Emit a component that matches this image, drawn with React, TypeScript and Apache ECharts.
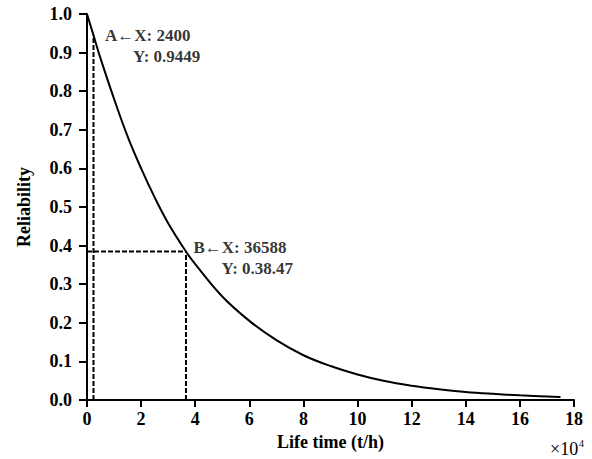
import React, { useEffect, useRef } from "react";
import * as echarts from "echarts";

// Life time in hours and read-off reliability values
const lifeHours = [0, 2400, 5000, 10000, 15000, 20000, 25000, 30000, 36588, 40000, 50000, 60000, 70000, 80000, 90000, 100000, 110000, 120000, 130000, 140000, 150000, 160000, 170000, 175000];
const reliability = [1.0, 0.9449, 0.885, 0.78, 0.683, 0.6, 0.525, 0.458, 0.3847, 0.352, 0.268, 0.205, 0.155, 0.116, 0.088, 0.066, 0.049, 0.037, 0.028, 0.021, 0.016, 0.012, 0.009, 0.008];

const pointA = { name: "A", x: 2400, y: 0.9449, yText: "0.9449" };
const pointB = { name: "B", x: 36588, y: 0.3847, yText: "0.38.47" };

const xTickValues = [0, 2, 4, 6, 8, 10, 12, 14, 16, 18];
const xScale = 10000;

const FONT = "'Liberation Serif', 'Times New Roman', serif";

export default function App() {
  const ref = useRef<HTMLDivElement>(null);
  useEffect(() => {
    if (!ref.current) return;
    const chart = echarts.init(ref.current, null, { renderer: "svg" });
    const curve = lifeHours.map((t, i) => [t, reliability[i]]);
    const dashStyle = { color: "#000", width: 2, type: [5, 2] as number[] };
    const labelRich = (p: typeof pointA) =>
      `{a|${p.name}\u2190X: ${p.x}}\n{b|Y: ${p.yText}}`;
    const richStyles = {
      a: { fontFamily: FONT, fontWeight: "bold", fontSize: 17, color: "#000", lineHeight: 21 },
      b: { fontFamily: FONT, fontWeight: "bold", fontSize: 17, color: "#000", lineHeight: 21, padding: [0, 0, 0, 28] },
    };
    chart.setOption({
      animation: false,
      backgroundColor: "#fff",
      grid: { left: 87, right: 18, top: 14, bottom: 59 },
      xAxis: {
        type: "value",
        min: 0,
        max: xTickValues[xTickValues.length - 1] * xScale,
        interval: 2 * xScale,
        name: "Life time (t/h)",
        nameLocation: "middle",
        nameGap: 31,
        nameTextStyle: { fontFamily: FONT, fontWeight: "bold", fontSize: 18, color: "#000" },
        axisLine: { show: true, lineStyle: { color: "#000", width: 2 } },
        axisTick: { show: true, length: 7, lineStyle: { color: "#000", width: 2 } },
        axisLabel: {
          margin: 10,
          fontFamily: FONT,
          fontWeight: "bold",
          fontSize: 18,
          color: "#000",
          formatter: (v: number) => String(Math.round(v / xScale)),
        },
        splitLine: { show: false },
      },
      yAxis: {
        type: "value",
        min: 0,
        max: 1,
        interval: 0.1,
        name: "Reliability",
        nameLocation: "middle",
        nameGap: 54,
        nameTextStyle: { fontFamily: FONT, fontWeight: "bold", fontSize: 18, color: "#000" },
        axisLine: { show: true, lineStyle: { color: "#000", width: 2 } },
        axisTick: { show: true, length: 8, lineStyle: { color: "#000", width: 2 } },
        axisLabel: {
          margin: 15,
          fontFamily: FONT,
          fontWeight: "bold",
          fontSize: 18,
          color: "#000",
          formatter: (v: number) => v.toFixed(1),
        },
        splitLine: { show: false },
      },
      graphic: [
        {
          type: "text",
          left: 550,
          top: 440,
          style: { text: "\u00d710", fontFamily: FONT, fontSize: 18, fill: "#000" },
        },
        {
          type: "text",
          left: 579,
          top: 438,
          style: { text: "4", fontFamily: FONT, fontSize: 10, fill: "#000" },
        },
      ],
      series: [
        {
          type: "line",
          data: curve,
          showSymbol: false,
          smooth: 0.4,
          lineStyle: { color: "#000", width: 2 },
          z: 3,
        },
        {
          type: "line",
          data: [[pointA.x, 0], [pointA.x, pointA.y]],
          showSymbol: false,
          lineStyle: dashStyle,
        },
        {
          type: "line",
          data: [[0, pointB.y], [pointB.x, pointB.y]],
          showSymbol: false,
          lineStyle: dashStyle,
        },
        {
          type: "line",
          data: [[pointB.x, 0], [pointB.x, pointB.y]],
          showSymbol: false,
          lineStyle: dashStyle,
        },
        {
          type: "scatter",
          symbolSize: 1,
          itemStyle: { color: "rgba(0,0,0,0)" },
          data: [
            {
              value: [pointA.x, pointA.y],
              label: { show: true, position: "right", distance: 0, offset: [11, 11], formatter: labelRich(pointA), rich: richStyles },
            },
            {
              value: [pointB.x, pointB.y],
              label: { show: true, position: "right", distance: 0, offset: [7, 6.5], formatter: labelRich(pointB), rich: richStyles },
            },
          ],
          z: 5,
        },
      ],
    });
    return () => chart.dispose();
  }, []);
  return <div ref={ref} style={{ position: "fixed", left: 0, top: 0, width: 592, height: 459 }} />;
}
